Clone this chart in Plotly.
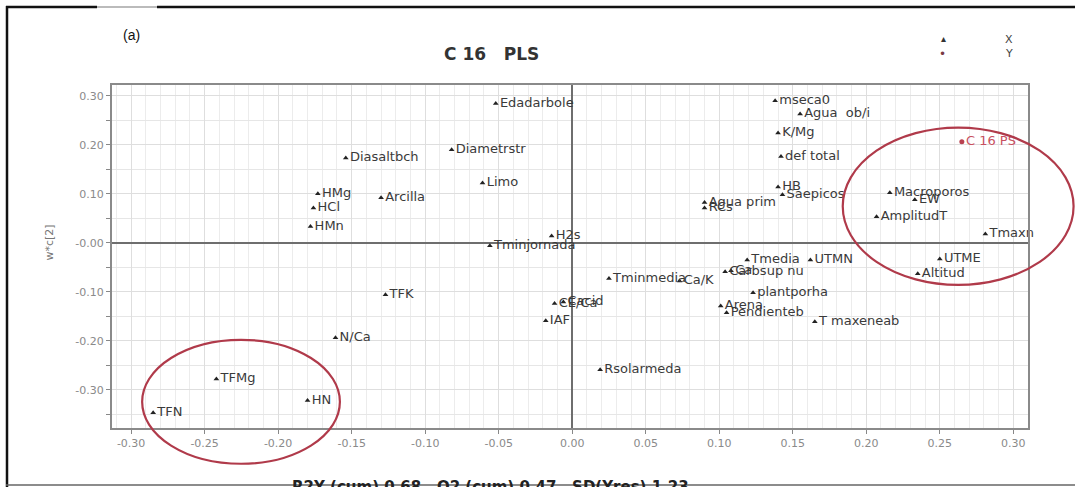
import plotly.graph_objects as go

# ---------------- data ----------------
x_names = ["Edadarbole", "Diasaltbch", "Diametrstr", "Limo", "HMg", "Arcilla", "HCl", "HMn",
           "H2s", "Tminjornada", "Tminmedia", "Ca/K", "Carbsup nu", "Ca", "Tmedia", "UTMN",
           "plantporha", "Arena", "Pendienteb", "T maxeneab", "CE/Ca", "Cacid", "IAF",
           "Rsolarmeda", "TFK", "N/Ca", "HN", "TFMg", "TFN", "mseca0", "Agua  ob/i", "K/Mg",
           "def total", "HB", "Saepicos", "Agua prim", "RCs", "Macroporos", "EW", "AmplitudT",
           "Tmaxn", "UTME", "Altitud"]
x_w1 = [-0.052, -0.154, -0.082, -0.061, -0.173, -0.130, -0.176, -0.178,
        -0.014, -0.056, 0.025, 0.073, 0.104, 0.108, 0.119, 0.162,
        0.123, 0.101, 0.105, 0.165, -0.012, -0.006, -0.018,
        0.019, -0.127, -0.161, -0.180, -0.242, -0.285, 0.138, 0.155, 0.140,
        0.142, 0.140, 0.143, 0.090, 0.090, 0.216, 0.233, 0.207,
        0.281, 0.250, 0.235]
x_w2 = [0.284, 0.173, 0.190, 0.122, 0.100, 0.092, 0.071, 0.033,
        0.014, -0.006, -0.073, -0.078, -0.059, -0.057, -0.035, -0.035,
        -0.102, -0.129, -0.143, -0.161, -0.124, -0.121, -0.159,
        -0.259, -0.106, -0.194, -0.322, -0.278, -0.347, 0.290, 0.263, 0.224,
        0.176, 0.114, 0.098, 0.082, 0.071, 0.102, 0.088, 0.053,
        0.018, -0.033, -0.063]

y_names = ["C 16 PS"]
y_w1 = [0.265]
y_w2 = [0.206]

x_tickvals = [-0.30, -0.25, -0.20, -0.15, -0.10, -0.05, 0.00, 0.05, 0.10, 0.15, 0.20, 0.25, 0.30]
x_ticktext = ["-0.30", "-0.25", "-0.20", "-0.15", "-0.10", "-0.05", "0.00", "0.05", "0.10",
              "0.15", "0.20", "0.25", "0.30"]
y_tickvals = [0.30, 0.20, 0.10, 0.00, -0.10, -0.20, -0.30]
y_ticktext = ["0.30", "0.20", "0.10", "-0.00", "-0.10", "-0.20", "-0.30"]

# highlighted groups (data-space ellipse bounds: x0, x1, y0, y1)
ellipses = [(0.184, 0.341, -0.086, 0.235), (-0.2925, -0.158, -0.451, -0.198)]

XR = [-0.313, 0.310]
YR = [-0.378, 0.322]

W, H = 1075, 487
ML, MR, MT, MB = 112, 47, 85, 59
PW = W - ML - MR
PH = H - MT - MB

def px(v):
    return (v - XR[0]) / (XR[1] - XR[0])

def py(v):
    return (v - YR[0]) / (YR[1] - YR[0])

def fx(p):  # page pixel -> paper x
    return (p - ML) / PW

def fy(p):  # page pixel -> paper y
    return (H - MB - p) / PH

fig = go.Figure()
fig.add_trace(go.Scatter(
    x=x_w1, y=x_w2, text=x_names, mode="markers+text", textposition="middle right",
    marker=dict(symbol="triangle-up", size=5, color="#222222"),
    textfont=dict(family="DejaVu Sans", size=13, color="#3a3a3a"),
    cliponaxis=False, showlegend=False, hoverinfo="text"))
fig.add_trace(go.Scatter(
    x=y_w1, y=y_w2, text=y_names, mode="markers+text", textposition="middle right",
    marker=dict(symbol="circle", size=5, color="#b8404f"),
    textfont=dict(family="DejaVu Sans", size=13, color="#c8505f"),
    cliponaxis=False, showlegend=False, hoverinfo="text"))

shapes = []
for (x0, x1, y0, y1) in ellipses:
    shapes.append(dict(type="circle", xref="paper", yref="paper",
                       x0=px(x0), x1=px(x1), y0=py(y0), y1=py(y1),
                       line=dict(color="#b03a4a", width=2.2), layer="above"))

shapes += [
    dict(type="line", xref="paper", yref="paper", x0=fx(6), x1=fx(97), y0=fy(7), y1=fy(7),
         line=dict(color="#111", width=2.5)),
    dict(type="line", xref="paper", yref="paper", x0=fx(97), x1=fx(157), y0=fy(7), y1=fy(7),
         line=dict(color="#bbbbbb", width=2)),
    dict(type="line", xref="paper", yref="paper", x0=fx(157), x1=fx(1075), y0=fy(7), y1=fy(7),
         line=dict(color="#111", width=2.5)),
    dict(type="line", xref="paper", yref="paper", x0=fx(7), x1=fx(7), y0=fy(6), y1=fy(487),
         line=dict(color="#111", width=2.5)),
    dict(type="line", xref="paper", yref="paper", x0=fx(6), x1=fx(1075), y0=fy(485), y1=fy(485),
         line=dict(color="#666", width=1.5)),
]

annotations = [
    dict(text="(a)", xref="paper", yref="paper", x=fx(121), y=fy(25), showarrow=False,
         font=dict(family="Liberation Sans", size=14, color="#111")),
    dict(text="<b>C 16   PLS</b>", xref="paper", yref="paper", x=fx(491), y=fy(42), showarrow=False,
         font=dict(family="DejaVu Sans", size=17, color="#333")),
    dict(text="▴", xref="paper", yref="paper", x=fx(948), y=fy(31), showarrow=False,
         font=dict(family="DejaVu Sans", size=10, color="#333")),
    dict(text="•", xref="paper", yref="paper", x=fx(948), y=fy(45), showarrow=False,
         font=dict(family="DejaVu Sans", size=12, color="#7a3a44")),
    dict(text="X", xref="paper", yref="paper", x=fx(1015), y=fy(31), showarrow=False,
         font=dict(family="DejaVu Sans", size=11, color="#444")),
    dict(text="Y", xref="paper", yref="paper", x=fx(1015), y=fy(45), showarrow=False,
         font=dict(family="DejaVu Sans", size=11, color="#444")),
    dict(text="w*c[2]", xref="paper", yref="paper", x=fx(40), y=fy(243), showarrow=False,
         textangle=-90, font=dict(family="DejaVu Sans", size=11, color="#777")),
    dict(text="<b>R2Y (cum) 0.68   Q2 (cum) 0.47   SD(Yres) 1.23</b>", xref="paper", yref="paper",
         x=fx(490), y=fy(487), showarrow=False, yanchor="middle",
         font=dict(family="DejaVu Sans", size=15, color="#222")),
]

axis_common = dict(showline=True, linecolor="#8a8a8a", linewidth=2, mirror=True,
                   ticks="outside", ticklen=4, tickcolor="#888",
                   tickfont=dict(family="DejaVu Sans", size=11, color="#8a8a8a"),
                   gridcolor="#dedede", gridwidth=1,
                   zeroline=True, zerolinecolor="#6e6e6e", zerolinewidth=1.5,
                   fixedrange=True)

fig.update_layout(
    width=W, height=H, margin=dict(l=ML, r=MR, t=MT, b=MB),
    paper_bgcolor="white", plot_bgcolor="white",
    xaxis=dict(range=XR, tickmode="array", tickvals=x_tickvals, ticktext=x_ticktext,
               minor=dict(dtick=0.01, showgrid=True, gridcolor="#ececec", ticks=""),
               **axis_common),
    yaxis=dict(range=YR, tickmode="array", tickvals=y_tickvals, ticktext=y_ticktext,
               minor=dict(dtick=0.05, tick0=0, showgrid=True, gridcolor="#e6e6e6",
                          ticks="outside", ticklen=4, tickcolor="#888"),
               **axis_common),
    shapes=shapes, annotations=annotations, showlegend=False,
)

fig.write_html("out.html", config={"displayModeBar": False},
               post_script="document.body.style.margin='0';document.body.style.overflow='hidden';")
